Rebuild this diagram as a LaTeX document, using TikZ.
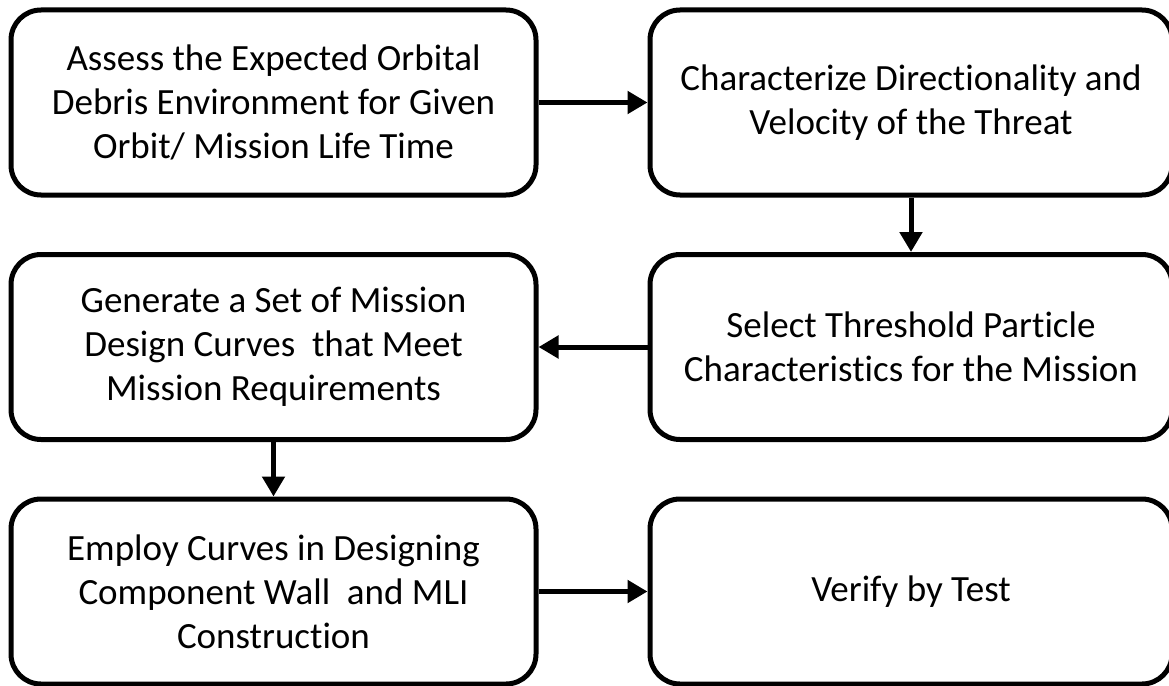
\documentclass[tikz,border=0pt]{standalone}
\usepackage{fontspec}
\setmainfont{Carlito}[Ligatures=NoCommon]
\usetikzlibrary{arrows.meta}

\begin{document}
\begin{tikzpicture}[x=1pt,y=1pt]
	\tikzset{font=\fontsize{37}{44}\selectfont,
			align=center}
	\tikzset{block/.style = {shape=rectangle,draw,line width=5pt,rounded corners=30pt,
			inner sep=0pt,minimum height=185pt}}
	\tikzset{leftcol/.style = {block,minimum width=525pt}}
	\tikzset{rightcol/.style = {block,minimum width=522pt}}
	\tikzset{edge/.style = {line width=5pt,-{Triangle[length=20pt,width=22pt]}}}
    \useasboundingbox (0,0) rectangle (1169,-685);
    % blocks
    \node[leftcol] (assess) at (273.5,-102.5) {Assess the Expected Orbital\\Debris Environment for Given\\Orbit/ Mission Life Time};
    \node[rightcol] (threat) at (911,-102.5) {Characterize Directionality and\\Velocity of the Threat};
    \node[leftcol] (curves) at (273.5,-347) {Generate a Set of Mission\\Design Curves\ \ that Meet\\Mission Requirements};
    \node[rightcol] (particle) at (911,-347) {Select Threshold Particle\\Characteristics for the Mission};
    \node[leftcol] (employ) at (273.5,-591.5) {Employ Curves in Designing\\Component Wall\ \ and MLI\\Construction};
    \node[rightcol] (verify) at (911,-591.5) {Verify by Test};
    % arrows
    \draw[edge] (assess) -- (threat);
    \draw[edge] (threat) -- (particle);
    \draw[edge] (particle) -- (curves);
    \draw[edge] (curves) -- (employ);
    \draw[edge] (employ) -- (verify);
\end{tikzpicture}
\end{document}
